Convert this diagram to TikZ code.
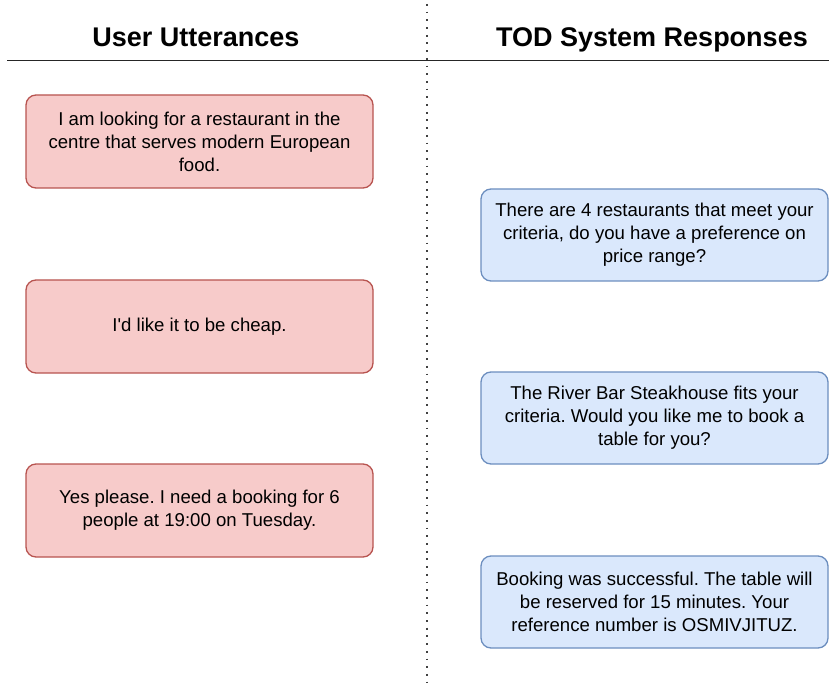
\documentclass[tikz,border=0pt]{standalone}
\usepackage{fontspec}
\setmainfont{Liberation Sans}
\frenchspacing
\begin{document}
\begin{tikzpicture}[x=1pt,y=-1pt,
  utter/.style={draw=userstroke, fill=userfill, line width=1.3pt, rounded corners=10pt,
    minimum width=347pt, minimum height=93pt, align=center, inner sep=0pt,
    font=\fontsize{18.6}{23}\selectfont},
  reply/.style={utter, draw=sysstroke, fill=sysfill, minimum height=92pt},
  heading/.style={font=\fontsize{27}{30}\selectfont\bfseries, anchor=base, inner sep=0pt}]
\definecolor{userfill}{HTML}{F7CBCA}
\definecolor{userstroke}{HTML}{B85450}
\definecolor{sysfill}{HTML}{DAE8FC}
\definecolor{sysstroke}{HTML}{6C8EBF}
\useasboundingbox (0,0) rectangle (829,684);

% column headings
\node[heading] (hu) at (196,47) {User Utterances};
\node[heading] (hs) at (652,47) {TOD System Responses};

% rule under the headings and the dotted column divider
\coordinate (ruleL) at (7,60.5);
\coordinate (ruleR) at (829,60.5);
\draw[line width=1.2pt, black!85] (ruleL) -- (ruleR);
\coordinate (divT) at (427,4);
\coordinate (divB) at (427,682);
\draw[line width=1.8pt, black!75, dash pattern=on 1.8pt off 5.9pt] (divT) -- (divB);

% user turns
\node[utter] (u1) at (199.5,141.5) {I am looking for a restaurant in the\\centre that serves modern European\\food.};
\node[utter] (u2) at (199.5,326.5) {I\textquotesingle d like it to be cheap.};
\node[utter] (u3) at (199.5,510.5) {Yes please. I need a booking for 6\\people at 19:00 on Tuesday.};

% system turns
\node[reply] (s1) at (654.5,235) {There are 4 restaurants that meet your\\criteria, do you have a preference on\\price range?};
\node[reply] (s2) at (654.5,418) {The River Bar Steakhouse fits your\\criteria. Would you like me to book a\\table for you?};
\node[reply] (s3) at (654.5,602) {Booking was successful. The table will\\be reserved for 15 minutes. Your\\reference number is OSMIVJITUZ.};
\end{tikzpicture}
\end{document}
